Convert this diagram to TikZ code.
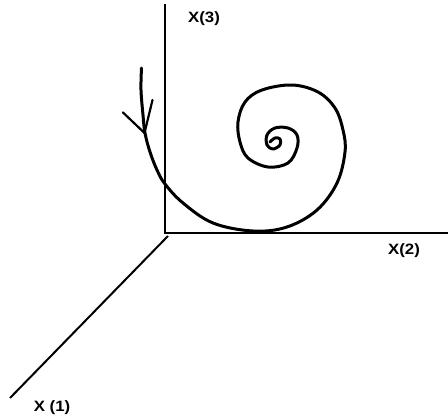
\documentclass[tikz,border=0pt]{standalone}
\usepackage{fontspec}
\setmainfont{Liberation Sans}
\begin{document}
\begin{tikzpicture}[x=1pt,y=-1pt,
  axis/.style={line width=2pt},
  curve/.style={line width=3pt, line cap=round, line join=round},
  barb/.style={line width=2.2pt, line cap=round},
  lab/.style={font=\bfseries\fontsize{15}{17}\selectfont, inner sep=0pt, xscale=1.12}]
\useasboundingbox (0,0) rectangle (448,418);
% axes
\coordinate (O) at (165,233);
\coordinate (top) at (165,4);
\coordinate (right) at (448,233);
\coordinate (Od) at (168,236);
\coordinate (diag) at (10,398);
\draw[axis] (top) -- (O) -- (right);
\draw[axis] (Od) -- (diag);
% labels
\node[lab] (x3) at (204,19) {X(3)};
\node[lab] (x2) at (404,251) {X(2)};
\node[lab] (x1) at (52,408) {X (1)};
% spiral
\draw[curve] plot[smooth, tension=0.6] coordinates {
 (141.5,68) (141,90) (143,115) (145,133) (150,152) (157,170) (165,184)
 (183,203) (213,223) (253,231) (287,227) (317,210) (337,183) (345,152)
 (343,130) (335,108) (318,92) (292,85) (262,90) (245,102) (238,122)
 (240,142) (248,158) (268,167) (288,163) (297,148) (297,135) (288,128)
 (275,128) (267,135) (267,145) (273,149) (280,145) (280,139) (275,138) (270,142)};
% arrowhead (open V)
\coordinate (tip) at (144.5,133);
\coordinate (bl) at (123,112.5);
\coordinate (br) at (152.5,100);
\draw[barb] (bl) -- (tip);
\draw[barb] (br) -- (tip);
\end{tikzpicture}
\end{document}
